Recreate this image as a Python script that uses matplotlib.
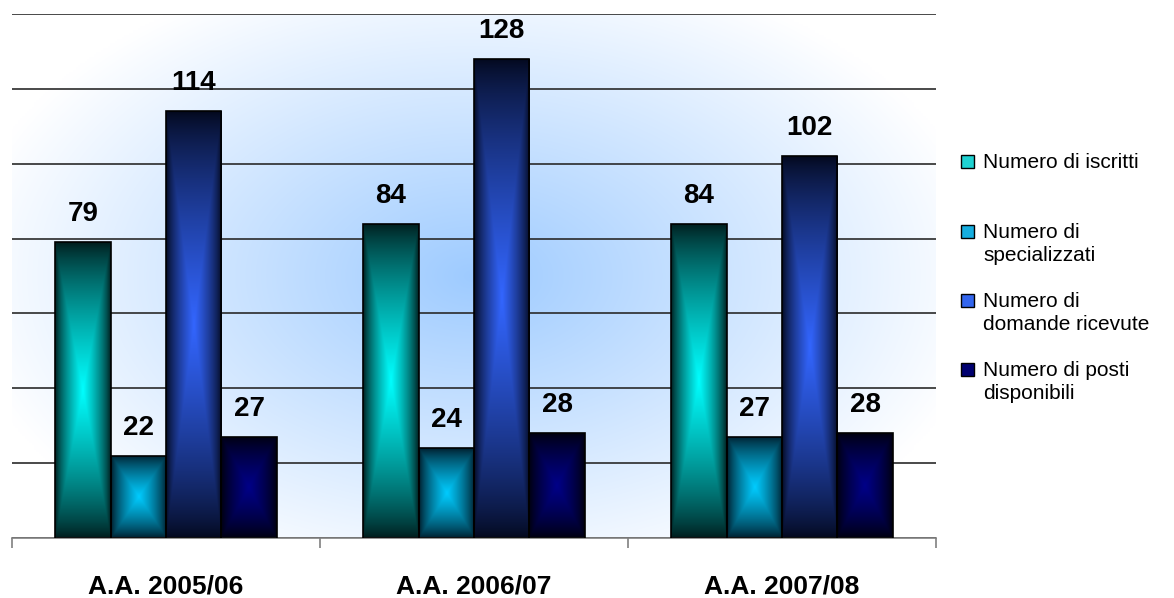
import numpy as np
import matplotlib
matplotlib.use("Agg")
import matplotlib.pyplot as plt
from matplotlib.patches import Rectangle
from matplotlib.colors import to_rgb

plt.rcParams['font.family'] = ['Liberation Sans', 'DejaVu Sans']

# ---- data ----
categories = ["A.A. 2005/06", "A.A. 2006/07", "A.A. 2007/08"]
series_names = ["Numero di iscritti", "Numero di\nspecializzati",
                "Numero di\ndomande ricevute", "Numero di posti\ndisponibili"]
iscritti = [79, 84, 84]
specializzati = [22, 24, 27]
domande = [114, 128, 102]
posti = [27, 28, 28]
series_values = [iscritti, specializzati, domande, posti]

# gradient colours (edge, centre) per series, plus legend swatch colours
edge_cols = ["#001a1a", "#001a28", "#03081c", "#00000c"]
centre_cols = ["#00ffff", "#00ccff", "#3366ff", "#000088"]
swatch_cols = ["#1fd2d2", "#16aee0", "#3366ee", "#000070"]

W, H, DPI = 1174, 598, 100
fig = plt.figure(figsize=(W / DPI, H / DPI), dpi=DPI)
ax = fig.add_axes([12 / W, 60 / H, 924 / W, 524 / H])

xlim = (-0.5, len(categories) - 0.5)
ylim = (0, 140)

# soft radial blue glow behind the plot area
gx = np.linspace(0, 1, 400)
gy = np.linspace(0, 1, 240)
GX, GY = np.meshgrid(gx, gy)
r = np.sqrt(((GX - 0.50) / 0.56) ** 2 + ((GY - 0.50) / 0.62) ** 2)
glow = np.clip(1 - r, 0, 1) ** 1.0
white = np.array([1.0, 1.0, 1.0])
blue = np.array(to_rgb("#9ecbff"))
bg = white[None, None, :] * (1 - glow[..., None]) + blue[None, None, :] * glow[..., None]
ax.imshow(bg, extent=(xlim[0], xlim[1], ylim[0], ylim[1]), origin="lower",
          aspect="auto", zorder=0, interpolation="bilinear")


def bar_gradient(edge, centre, nx=120, ny=240, gamma=0.75):
    u = np.linspace(0, 1, nx)
    v = np.linspace(0, 1, ny)
    U, V = np.meshgrid(u, v)
    dx = 1 - np.abs(2 * U - 1)
    dy = 1 - np.abs(2 * V - 1)
    t = np.minimum(dx, dy) ** gamma
    e = np.array(to_rgb(edge))
    c = np.array(to_rgb(centre))
    return e[None, None, :] * (1 - t[..., None]) + c[None, None, :] * t[..., None]


n = len(series_values)
width = 0.18
offsets = (np.arange(n) - (n - 1) / 2) * width
x = np.arange(len(categories))

for k, vals in enumerate(series_values):
    bars = ax.bar(x + offsets[k], vals, width, facecolor="none",
                  edgecolor="#000000", linewidth=1.2, zorder=3)
    img = bar_gradient(edge_cols[k], centre_cols[k])
    for b, val in zip(bars, vals):
        x0 = b.get_x()
        im = ax.imshow(img, extent=(x0, x0 + b.get_width(), 0, val),
                       origin="lower", aspect="auto", zorder=2,
                       interpolation="bilinear")
        im.set_clip_path(b)
        ax.annotate(f"{val}", (b.get_x() + b.get_width() / 2, val),
                    xytext=(0, 15), textcoords="offset points",
                    ha="center", va="baseline", fontsize=20,
                    fontweight="bold", color="#000000", zorder=4)

ax.set_xlim(*xlim)
ax.set_ylim(*ylim)

# horizontal gridlines
ax.set_yticks(np.arange(0, 141, 20))
ax.yaxis.grid(True, color="#2a2a2a", linewidth=1.2)
ax.set_axisbelow(True)
ax.tick_params(axis="y", left=False, labelleft=False)

# category labels and boundary ticks
ax.set_xticks(x)
ax.set_xticklabels(categories, fontsize=19, fontweight="bold")
ax.tick_params(axis="x", which="major", length=0, pad=26)
ax.set_xticks(np.arange(len(categories) + 1) - 0.5, minor=True)
ax.tick_params(axis="x", which="minor", length=7, width=1.2, color="#808080",
               direction="out")

for side in ("left", "top", "right"):
    ax.spines[side].set_visible(False)
ax.spines["bottom"].set_color("#808080")
ax.spines["bottom"].set_linewidth(1.2)

# legend, drawn entry by entry
legend_centres = [161, 231, 300, 369]
for name, col, yc in zip(series_names, swatch_cols, legend_centres):
    fig.patches.append(Rectangle((961 / W, 1 - (yc + 6.5) / H), 13 / W, 13 / H,
                                 transform=fig.transFigure, facecolor=col,
                                 edgecolor="#000000", linewidth=1.0))
    fig.text(983 / W, 1 - (yc - 8) / H, name, fontsize=15, ha="left",
             va="top", color="#000000", linespacing=1.28)

fig.savefig("out.png", dpi=DPI)
